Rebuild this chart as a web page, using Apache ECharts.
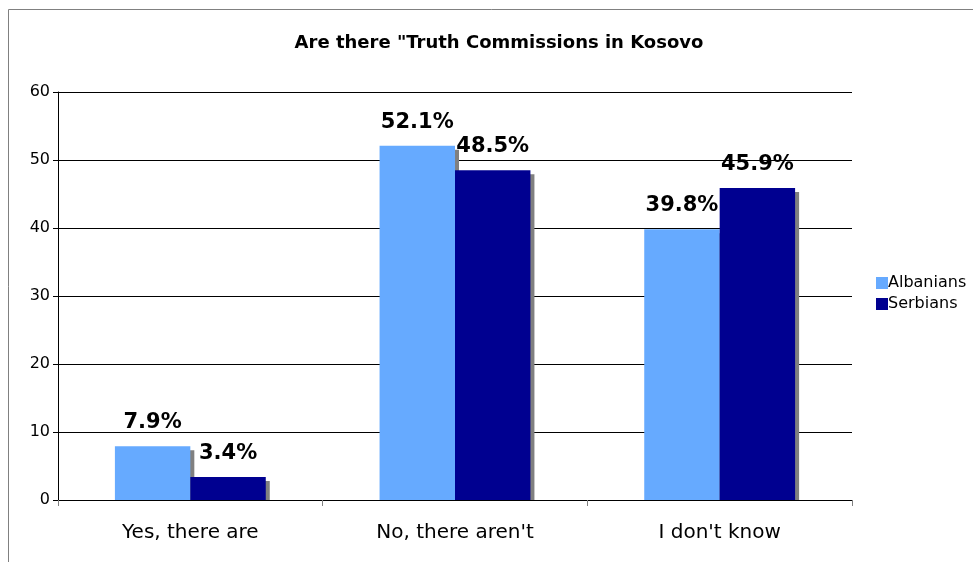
<!DOCTYPE html>
<html>
<head>
<meta charset="utf-8">
<script src="https://cdn.jsdelivr.net/npm/echarts@6/dist/echarts.min.js"></script>
<style>
  html, body { margin: 0; padding: 0; background: #fff; }
  #chart { width: 973px; height: 562px; }
</style>
</head>
<body>
<div id="chart"></div>
<script>
var categories = ["Yes, there are", "No, there aren't", "I don't know"];
var albanians = [7.9, 52.1, 39.8];
var serbians = [3.4, 48.5, 45.9];
var yTicks = { min: 0, max: 60, interval: 10 };

var gridLeft = 58, gridRight = 121, gridTop = 92, gridBottom = 62;

var chart = echarts.init(document.getElementById("chart"));

function barSeries(name, data, color) {
  return {
    name: name,
    type: "bar",
    data: data,
    barGap: "0%",
    barCategoryGap: "43%",
    itemStyle: {
      color: color,
      shadowColor: "#808080",
      shadowOffsetX: 4,
      shadowOffsetY: 4,
      shadowBlur: 0
    },
    label: {
      show: true,
      position: "top",
      distance: 13,
      formatter: "{c}%",
      color: "#000",
      fontSize: 21,
      fontWeight: "bold",
      fontFamily: "DejaVu Sans"
    }
  };
}

chart.setOption({
  animation: false,
  textStyle: { fontFamily: "DejaVu Sans" },
  title: {
    text: 'Are there "Truth Commissions in Kosovo',
    left: 494,
    top: 29,
    textAlign: "center",
    textStyle: { fontSize: 18, fontWeight: "bold", color: "#000", fontFamily: "DejaVu Sans" }
  },
  legend: {
    orient: "vertical",
    left: 871,
    top: 270,
    itemWidth: 12,
    itemHeight: 12,
    itemGap: 5,
    icon: "rect",
    textStyle: { fontSize: 16, color: "#000", padding: [0, 0, 0, -5] },
    data: ["Albanians", "Serbians"]
  },
  grid: { left: gridLeft, right: gridRight, top: gridTop, bottom: gridBottom },
  xAxis: {
    type: "category",
    data: categories,
    z: 3,
    axisLine: { lineStyle: { color: "#000", width: 1 } },
    axisTick: { show: true, length: 6, lineStyle: { color: "#808080" } },
    axisLabel: { fontSize: 20, color: "#000", margin: 23 }
  },
  yAxis: {
    type: "value",
    min: yTicks.min,
    max: yTicks.max,
    interval: yTicks.interval,
    axisLine: { show: true, lineStyle: { color: "#000" } },
    axisTick: { show: true, length: 5, lineStyle: { color: "#000" } },
    axisLabel: { fontSize: 16, color: "#000", margin: 8 },
    splitLine: { show: true, lineStyle: { color: "#000", width: 1 } }
  },
  series: [
    barSeries("Albanians", albanians, "#66aaff"),
    barSeries("Serbians", serbians, "#000090")
  ],
  graphic: [
    {
      // outer chart frame
      type: "rect",
      shape: { x: 8.5, y: 9.5, width: 1000, height: 600 },
      style: { fill: "none", stroke: "#808080", lineWidth: 1 },
      silent: true
    },
    {
      // hides the bar shadows below the x axis line
      type: "rect",
      z: 2.5,
      shape: { x: gridLeft + 1, y: 562 - gridBottom + 1, width: 973 - gridLeft - gridRight - 1, height: 8 },
      style: { fill: "#fff" },
      silent: true
    }
  ]
});
</script>
</body>
</html>
